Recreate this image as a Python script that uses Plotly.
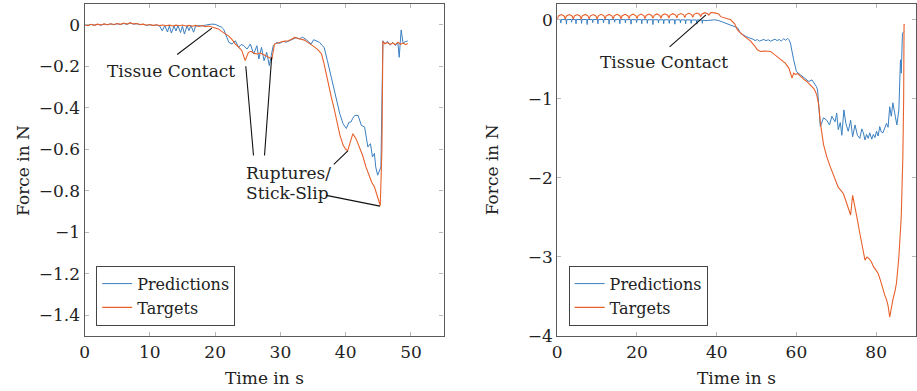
import plotly.graph_objects as go

# ---------------- data: left experiment ----------------
left_t_targets = [0.0, 0.5, 1.0, 1.5, 2.0, 2.5, 3.0, 3.5, 4.0, 4.5, 5.0, 5.5, 6.0, 6.5, 7.0, 7.5, 8.0, 8.5, 9.0, 9.5,
                  10.0, 10.5, 11.0, 11.5, 12.0, 12.5, 13.0, 13.5, 14.0, 14.5, 15.0, 15.5, 16.0, 16.5, 17.0, 17.5, 18.0, 18.5, 19.0, 19.5,
                  20.0, 20.5, 21.0, 21.5, 22.1, 22.6, 23.1, 23.6, 24.1, 24.6, 25.1, 25.5, 26.0, 26.4, 26.9, 27.4, 27.8, 28.2, 28.7,
                  29.1, 29.7, 30.2, 30.7, 31.2, 31.7, 32.2, 32.7, 33.2, 33.7, 34.2, 34.7, 35.3, 35.8, 36.3, 36.7, 37.0, 37.3, 37.8,
                  38.2, 38.6, 39.1, 39.6, 40.0, 40.3, 40.7, 41.1, 41.6, 42.1, 42.6, 43.1, 43.6, 44.0, 44.4, 44.9, 45.3, 45.55, 45.7,
                  46.0, 46.4, 46.8, 47.2, 47.6, 48.0, 48.4, 48.8, 49.2, 49.5]
left_targets = [0.000, -0.004, 0.002, -0.003, 0.003, -0.001, 0.004, 0.000, 0.005, 0.001, 0.006, 0.002, 0.008, 0.003, 0.010, 0.004, 0.006, 0.001, 0.003, -0.002,
                0.001, -0.003, 0.000, -0.004, -0.001, -0.005, -0.002, -0.006, -0.002, -0.005, -0.001, -0.006, -0.003, -0.007, -0.003, -0.008, -0.004, -0.009, -0.006, -0.010,
                -0.013, -0.020, -0.032, -0.043, -0.055, -0.072, -0.093, -0.108, -0.125, -0.173, -0.133, -0.128, -0.138, -0.141, -0.136, -0.143, -0.150, -0.157, -0.165,
                -0.093, -0.085, -0.082, -0.079, -0.077, -0.070, -0.061, -0.066, -0.069, -0.074, -0.085, -0.095, -0.109, -0.122, -0.141, -0.190, -0.236, -0.290, -0.349,
                -0.400, -0.461, -0.530, -0.580, -0.600, -0.608, -0.560, -0.525, -0.550, -0.589, -0.630, -0.685, -0.733, -0.760, -0.781, -0.830, -0.872, -0.600, -0.080,
                -0.092, -0.086, -0.095, -0.088, -0.096, -0.084, -0.094, -0.088, -0.096, -0.090]

left_t_pred = [0.0, 0.5, 1.0, 1.5, 2.0, 2.5, 3.0, 3.5, 4.0, 4.5, 5.0, 5.5, 6.0, 6.5, 7.0, 7.5, 8.0, 8.5, 9.0, 9.5,
               10.0, 10.5, 11.0, 11.5, 11.9, 12.3, 12.7, 13.0, 13.3, 13.7, 14.0, 14.3, 14.7, 15.0, 15.3, 15.7, 16.0, 16.3, 16.7, 17.0,
               17.5, 18.0, 18.5, 19.0, 19.5, 20.0, 20.5, 21.0, 21.3, 21.7, 22.1, 22.6, 23.1, 23.6, 24.0, 24.4, 24.9, 25.4, 25.9, 26.4,
               26.7, 27.1, 27.5, 27.9, 28.3, 28.6, 28.9, 29.4, 29.9, 30.4, 30.9, 31.4, 31.9, 32.4, 32.9, 33.4, 33.9, 34.2, 34.7, 35.1,
               35.5, 36.0, 36.4, 36.7, 37.2, 37.8, 38.2, 38.6, 39.1, 39.6, 40.1, 40.5, 40.8, 41.1, 41.4, 41.9, 42.4, 42.9, 43.2, 43.4,
               43.8, 44.1, 44.4, 44.6, 44.9, 45.2, 45.4, 45.7, 46.0, 46.4, 46.8, 47.2, 47.6, 48.0, 48.2, 48.5, 48.8, 49.1, 49.5]
left_pred = [0.000, -0.003, 0.001, -0.002, 0.002, -0.002, 0.003, 0.000, 0.004, 0.000, 0.005, 0.001, 0.006, 0.002, 0.008, 0.003, 0.005, 0.000, 0.002, -0.003,
             0.000, -0.004, -0.001, -0.006, -0.029, -0.004, -0.035, -0.005, -0.040, -0.006, -0.030, -0.004, -0.038, -0.006, -0.045, -0.005, -0.028, -0.004, -0.036, -0.006,
             -0.004, -0.006, -0.002, 0.002, 0.003, 0.002, -0.005, -0.012, -0.021, -0.050, -0.085, -0.093, -0.077, -0.109, -0.095, -0.101, -0.117, -0.093, -0.141, -0.101,
             -0.165, -0.109, -0.173, -0.133, -0.197, -0.149, -0.101, -0.085, -0.090, -0.080, -0.084, -0.077, -0.070, -0.062, -0.068, -0.060, -0.070, -0.077, -0.093, -0.072,
             -0.077, -0.085, -0.100, -0.109, -0.173, -0.253, -0.300, -0.365, -0.429, -0.477, -0.500, -0.470, -0.469, -0.450, -0.437, -0.437, -0.485, -0.493, -0.540, -0.589,
             -0.573, -0.637, -0.620, -0.685, -0.725, -0.700, -0.685, -0.077, -0.092, -0.080, -0.098, -0.085, -0.100, -0.088, -0.157, -0.025, -0.090, -0.082, -0.078]

# ---------------- data: right experiment ----------------
right_t_targets = [0.0, 0.3, 1.0, 1.7, 2.0, 2.3, 3.0, 3.7, 4.0, 4.3, 5.0, 5.7, 6.0, 6.3, 7.0, 7.7, 8.0, 8.3, 9.0, 9.7,
                   10.0, 10.3, 11.0, 11.7, 12.0, 12.3, 13.0, 13.7, 14.0, 14.3, 15.0, 15.7, 16.0, 16.3, 17.0, 17.7, 18.0, 18.3, 19.0, 19.7,
                   20.0, 20.3, 21.0, 21.7, 22.0, 22.3, 23.0, 23.7, 24.0, 24.3, 25.0, 25.7, 26.0, 26.3, 27.0, 27.7, 28.0, 28.3, 29.0, 29.7,
                   30.0, 30.3, 31.0, 31.7, 32.0, 32.3, 33.0, 33.7, 34.0, 34.3, 35.0, 35.7, 36.0, 36.3, 37.0, 37.7, 38.0, 38.5, 39.5, 40.5,
                   41.0, 42.0, 43.5, 44.5, 45.2, 46.5, 47.5, 48.5, 49.5, 50.2, 51.0, 52.0, 53.5, 54.5, 55.6, 56.5, 57.2, 58.1, 58.9, 59.3,
                   59.8, 60.3, 61.0, 61.8, 62.6, 63.3, 63.9, 64.5, 65.1, 65.6, 66.0, 66.8, 67.6, 68.5, 69.3, 70.5, 71.2, 71.8, 72.6, 73.6,
                   74.1, 74.7, 75.3, 75.9, 76.6, 77.2, 77.7, 78.2, 78.8, 79.3, 80.0, 80.5, 81.1, 81.7, 82.2, 82.6, 83.0, 83.4, 83.8, 84.2,
                   84.7, 85.1, 85.7, 86.0, 86.3, 86.5, 86.7, 86.9, 87.0, 87.2]
right_targets = [0.010, 0.048, 0.066, 0.048, 0.010, 0.049, 0.067, 0.049, 0.011, 0.049, 0.066, 0.048, 0.010, 0.050, 0.068, 0.050, 0.012, 0.050, 0.067, 0.049,
                 0.011, 0.051, 0.069, 0.051, 0.013, 0.051, 0.068, 0.050, 0.012, 0.052, 0.070, 0.052, 0.014, 0.052, 0.070, 0.052, 0.015, 0.053, 0.071, 0.053,
                 0.016, 0.054, 0.072, 0.054, 0.017, 0.055, 0.073, 0.055, 0.018, 0.056, 0.074, 0.056, 0.020, 0.058, 0.076, 0.058, 0.022, 0.060, 0.078, 0.060,
                 0.025, 0.063, 0.080, 0.063, 0.028, 0.066, 0.083, 0.066, 0.032, 0.069, 0.086, 0.070, 0.040, 0.074, 0.090, 0.078, 0.060, 0.092, 0.088, 0.075,
                 0.040, 0.020, 0.000, -0.050, -0.127, -0.190, -0.230, -0.270, -0.330, -0.380, -0.400, -0.395, -0.400, -0.440, -0.485, -0.515, -0.548, -0.611, -0.738, -0.675,
                 -0.690, -0.680, -0.717, -0.750, -0.780, -0.810, -0.844, -0.880, -0.950, -1.080, -1.300, -1.580, -1.730, -1.860, -1.960, -2.120, -2.160, -2.200, -2.320, -2.470,
                 -2.220, -2.360, -2.530, -2.700, -2.880, -3.040, -3.000, -3.020, -3.060, -3.120, -3.170, -3.210, -3.300, -3.420, -3.490, -3.540, -3.620, -3.760, -3.640, -3.540,
                 -3.440, -3.330, -3.000, -2.750, -2.490, -2.100, -1.730, -1.000, -0.060, -0.060]

right_t_pred = [0.0, 0.8, 0.9, 1.0, 2.2, 2.3, 2.4, 3.5, 3.6, 3.7, 4.6, 4.7, 4.8, 6.0, 6.1, 6.2, 7.4, 7.5, 7.6, 8.8,
                8.9, 9.0, 10.1, 10.2, 10.3, 11.5, 11.6, 11.7, 12.9, 13.0, 13.1, 14.3, 14.4, 14.5, 15.6, 15.7, 15.8, 17.0, 17.1, 17.2,
                18.4, 18.5, 18.6, 19.8, 19.9, 20.0, 21.1, 21.2, 21.3, 22.5, 22.6, 22.7, 23.9, 24.0, 24.1, 25.3, 25.4, 25.5, 26.6, 26.7,
                26.8, 28.0, 28.1, 28.2, 29.4, 29.5, 29.6, 30.8, 30.9, 31.0, 32.1, 32.2, 32.3, 33.5, 33.6, 33.7, 34.9, 35.0, 35.1, 36.3,
                36.4, 36.5, 37.3, 38.5, 39.5, 40.5, 41.0, 42.0, 43.5, 44.5, 45.2, 46.0, 46.6, 47.3, 48.0, 48.5, 49.1, 49.6, 50.2, 50.7,
                51.3, 51.8, 52.4, 52.9, 53.5, 54.0, 54.6, 55.1, 55.7, 56.2, 56.8, 57.3, 57.8, 58.1, 58.5, 59.3, 60.0, 61.0, 62.2, 63.1,
                63.9, 64.5, 65.0, 65.3, 65.8, 66.0, 66.8, 67.6, 68.3, 68.9, 69.7, 70.1, 70.5, 71.0, 71.4, 71.9, 72.4, 73.0, 73.6, 74.1,
                74.7, 75.3, 75.9, 76.4, 76.8, 77.2, 77.6, 78.0, 78.4, 78.9, 79.3, 79.7, 80.1, 80.5, 80.9, 81.3, 81.7, 82.1, 82.6, 83.0,
                83.4, 83.8, 84.2, 84.8, 85.2, 85.7, 86.1, 86.3, 86.6, 87.0]
right_pred = [0.005, 0.004, -0.040, 0.003, 0.004, -0.055, 0.003, 0.004, -0.030, 0.004, 0.003, -0.050, 0.004, 0.003, -0.045, 0.003, 0.004, -0.060, 0.004, 0.003,
              -0.035, 0.004, 0.003, -0.050, 0.003, 0.004, -0.040, 0.003, 0.004, -0.055, 0.002, 0.003, -0.030, 0.003, 0.002, -0.050, 0.003, 0.002, -0.040, 0.002,
              0.003, -0.055, 0.002, 0.002, -0.035, 0.002, 0.002, -0.050, 0.001, 0.002, -0.045, 0.001, 0.001, -0.060, 0.001, 0.001, -0.040, 0.000, 0.001, -0.050,
              0.000, 0.000, -0.045, 0.000, 0.000, -0.055, 0.000, 0.000, -0.040, -0.001, -0.001, -0.050, -0.001, -0.001, -0.045, -0.002, -0.002, -0.055, -0.002, -0.003,
              -0.045, -0.004, -0.010, -0.005, 0.000, -0.010, -0.020, -0.040, -0.063, -0.080, -0.100, -0.170, -0.190, -0.210, -0.225, -0.230, -0.245, -0.262, -0.250, -0.270,
              -0.255, -0.248, -0.265, -0.252, -0.270, -0.258, -0.245, -0.262, -0.250, -0.268, -0.240, -0.258, -0.235, -0.250, -0.295, -0.506, -0.654, -0.696, -0.738, -0.780,
              -0.760, -0.800, -0.844, -0.886, -1.220, -1.350, -1.240, -1.270, -1.330, -1.220, -1.290, -1.180, -1.390, -1.300, -1.460, -1.140, -1.310, -1.410, -1.270, -1.480,
              -1.330, -1.460, -1.500, -1.380, -1.430, -1.520, -1.450, -1.500, -1.430, -1.510, -1.450, -1.490, -1.410, -1.470, -1.350, -1.420, -1.430, -1.380, -1.310, -1.360,
              -1.100, -1.220, -1.050, -1.220, -1.330, -1.140, -0.506, -0.675, -0.170, -0.148]

# tick labels
left_x_ticks = [0, 10, 20, 30, 40, 50]
left_y_ticks = [0, -0.2, -0.4, -0.6, -0.8, -1.0, -1.2, -1.4]
left_y_labels = ["0", "\u22120.2", "\u22120.4", "\u22120.6", "\u22120.8", "\u22121", "\u22121.2", "\u22121.4"]
right_x_ticks = [0, 20, 40, 60, 80]
right_y_ticks = [0, -1, -2, -3, -4]
right_y_labels = ["0", "\u22121", "\u22122", "\u22123", "\u22124"]

# annotation anchors (data coordinates)
left_contact_text = (13.2, -0.221)
left_contact_line = ((13.96, -0.149), (19.5, -0.016))
left_rupture_text = (24.35, -0.714)
left_slip_text = (24.35, -0.81)
left_rupture_lines = [((25.9, -0.637), (24.7, -0.200)),
                      ((27.55, -0.637), (28.66, -0.157)),
                      ((37.95, -0.680), (40.33, -0.608)),
                      ((36.8, -0.821), (45.25, -0.874))]
right_contact_text = (26.9, -0.528)
right_contact_line = ((27.8, -0.358), (37.3, 0.063))

# ---------------- styling ----------------
FONT = "DejaVu Serif"
FS = 17
TFS = 17
LFS = 16
BLUE = "#3a7fc0"
ORANGE = "#e8602a"
W, H = 917, 391
ML, MR, MT, MB = 0, 0, 4, 55

fig = go.Figure()
fig.add_trace(go.Scatter(x=left_t_pred, y=left_pred, mode="lines", name="Predictions",
                         line=dict(color=BLUE, width=1), xaxis="x", yaxis="y", legend="legend"))
fig.add_trace(go.Scatter(x=left_t_targets, y=left_targets, mode="lines", name="Targets",
                         line=dict(color=ORANGE, width=1.1), xaxis="x", yaxis="y", legend="legend"))
fig.add_trace(go.Scatter(x=right_t_pred, y=right_pred, mode="lines", name="Predictions",
                         line=dict(color=BLUE, width=1), xaxis="x2", yaxis="y2", legend="legend2"))
fig.add_trace(go.Scatter(x=right_t_targets, y=right_targets, mode="lines", name="Targets",
                         line=dict(color=ORANGE, width=1.1), xaxis="x2", yaxis="y2", legend="legend2"))

axis_common = dict(showgrid=False, zeroline=False, showline=True, linecolor="#5a5a5a", linewidth=1.3,
                   mirror="ticks", ticks="inside", ticklen=4, tickcolor="#b8b8b8", tickwidth=1,
                   tickfont=dict(family=FONT, size=TFS, color="#222"))

pw = W - ML - MR
fig.update_layout(
    width=W, height=H, margin=dict(l=ML, r=MR, t=MT, b=MB),
    paper_bgcolor="white", plot_bgcolor="white",
    font=dict(family=FONT, size=FS, color="#222"),
    xaxis=dict(domain=[80 / pw, 441 / pw], range=[0, 55], tickvals=left_x_ticks, anchor="y", **axis_common),
    yaxis=dict(domain=[0, 1], range=[-1.5, 0.1], tickvals=left_y_ticks, ticktext=left_y_labels, anchor="x", **axis_common),
    xaxis2=dict(domain=[555.3 / pw, 916 / pw], range=[0, 90], tickvals=right_x_ticks, anchor="y2", **axis_common),
    yaxis2=dict(domain=[0, 1], range=[-4, 0.2], tickvals=right_y_ticks, ticktext=right_y_labels, anchor="x2", **axis_common),
    legend=dict(x=91.7 / pw, y=(336 - 325.7) / 332, xanchor="left", yanchor="bottom",
                bgcolor="white", bordercolor="#444", borderwidth=1,
                font=dict(family=FONT, size=LFS, color="#222"), tracegroupgap=0),
    legend2=dict(x=566.7 / pw, y=(336 - 325.7) / 332, xanchor="left", yanchor="bottom",
                 bgcolor="white", bordercolor="#444", borderwidth=1,
                 font=dict(family=FONT, size=LFS, color="#222"), tracegroupgap=0),
)

ann = []
def text_ann(x, y, s, xr, yr, xanchor="center"):
    ann.append(dict(x=x, y=y, xref=xr, yref=yr, text=s, showarrow=False, xanchor=xanchor, yanchor="middle",
                    font=dict(family=FONT, size=FS, color="#222")))

def line_ann(tail, tip, xr, yr):
    ann.append(dict(x=tip[0], y=tip[1], ax=tail[0], ay=tail[1], xref=xr, yref=yr, axref=xr, ayref=yr,
                    text="", showarrow=True, arrowhead=0, arrowwidth=1.1, arrowcolor="#111",
                    standoff=0, startstandoff=0))

text_ann(*left_contact_text, "Tissue Contact", "x", "y")
line_ann(*left_contact_line, "x", "y")
text_ann(*left_rupture_text, "Ruptures/", "x", "y", xanchor="left")
text_ann(*left_slip_text, "Stick-Slip", "x", "y", xanchor="left")
for tail, tip in left_rupture_lines:
    line_ann(tail, tip, "x", "y")
text_ann(*right_contact_text, "Tissue Contact", "x2", "y2")
line_ann(*right_contact_line, "x2", "y2")

# axis titles
for xc in (18, 490):
    ann.append(dict(x=xc / pw, y=0.5, xref="paper", yref="paper", text="Force in N", textangle=-90,
                    showarrow=False, xanchor="center", yanchor="middle", font=dict(family=FONT, size=FS, color="#222")))
for xc in (260.5, 735.6):
    ann.append(dict(x=xc / pw, y=(336 - 378) / 332, xref="paper", yref="paper", text="Time in s",
                    showarrow=False, xanchor="center", yanchor="middle", font=dict(family=FONT, size=FS, color="#222")))

fig.update_layout(annotations=ann)
fig.write_html("out.html", config={"displayModeBar": False},
               post_script="document.body.style.margin='0px';document.body.style.overflow='hidden';")
